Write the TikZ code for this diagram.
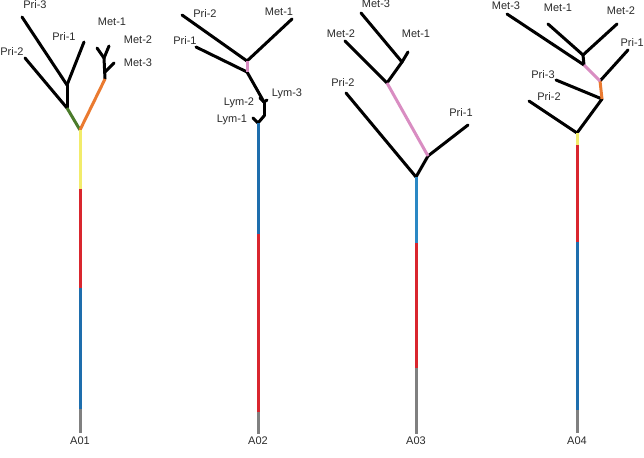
\documentclass[tikz,border=0pt]{standalone}
\usepackage{fontspec}
\setmainfont{Liberation Sans}
\definecolor{cyel}{HTML}{F2EC6B}
\definecolor{cred}{HTML}{D9262E}
\definecolor{cblue}{HTML}{1E6EAD}
\definecolor{cblue2}{HTML}{2A88C4}
\definecolor{cgrey}{HTML}{808080}
\definecolor{cgreen}{HTML}{4B7B2B}
\definecolor{corange}{HTML}{EA7A30}
\definecolor{cpink}{HTML}{D98DC2}
\definecolor{ctext}{HTML}{2A2A2A}
\begin{document}
\begin{tikzpicture}[x=1pt,y=-1pt,
  br/.style={line width=3pt, draw=black, line cap=round, line join=round},
  seg/.style={line width=3pt, draw=#1},
  lbl/.style={font=\fontsize{11}{13}\selectfont, text=ctext, inner sep=0pt}]
\useasboundingbox (0,0) rectangle (644,457);

% ===== A01 =====
\coordinate (r1) at (80,130);
\coordinate (s1y) at (80,189);
\coordinate (s1r) at (80,288);
\coordinate (s1b) at (80,409);
\coordinate (s1g) at (80,433);
\coordinate (g1) at (67,108);
\coordinate (p1) at (67,85);
\coordinate (l1pri2) at (25,58);
\coordinate (l1pri3) at (22,17);
\coordinate (l1pri1) at (84,42);
\coordinate (o1) at (105,79);
\coordinate (m1a) at (105,72);
\coordinate (m1b) at (104,58);
\coordinate (l1met3) at (114,63);
\coordinate (l1met1) at (97,48);
\coordinate (l1met2) at (109,46);
\draw[br] (g1) -- (p1);
\draw[br] (g1) -- (l1pri2);
\draw[br] (p1) -- (l1pri3);
\draw[br] (p1) -- (l1pri1);
\draw[br] (o1) -- (m1b);
\draw[br] (m1a) -- (l1met3);
\draw[br] (m1b) -- (l1met1);
\draw[br] (m1b) -- (l1met2);
\draw[seg=cgreen] (r1) -- (g1);
\draw[seg=corange] (r1) -- (o1);
\draw[seg=cyel] (r1) -- (s1y);
\draw[seg=cred] (s1y) -- (s1r);
\draw[seg=cblue] (s1r) -- (s1b);
\draw[seg=cgrey] (s1b) -- (s1g);
\node[lbl] (t1pri3) at (35,5) {Pri-3};
\node[lbl] (t1pri1) at (64,37) {Pri-1};
\node[lbl] (t1pri2) at (12,52) {Pri-2};
\node[lbl] (t1met1) at (112,22) {Met-1};
\node[lbl] (t1met2) at (138,40) {Met-2};
\node[lbl] (t1met3) at (138,63) {Met-3};
\node[lbl] (tA01) at (80,441) {A01};

% ===== A02 =====
\coordinate (r2) at (258,123);
\coordinate (s2b) at (258,234);
\coordinate (s2r) at (258,412);
\coordinate (s2g) at (258,434);
\coordinate (n2q) at (264,116);
\coordinate (l2lym1) at (253,118);
\coordinate (n2p) at (264,102);
\coordinate (l2lym2) at (260,98);
\coordinate (l2lym3) at (267,100);
\coordinate (n2b) at (247,72);
\coordinate (n2t) at (247,61);
\coordinate (l2pri1) at (196,47);
\coordinate (l2pri2) at (182,15);
\coordinate (l2met1) at (292,19);
\draw[br] (r2) -- (n2q);
\draw[br] (r2) -- (l2lym1);
\draw[br] (n2q) -- (n2p);
\draw[br] (n2p) -- (l2lym2);
\draw[br] (n2p) -- (l2lym3);
\draw[br] (n2p) -- (n2b);
\draw[br] (n2b) -- (l2pri1);
\draw[br] (n2t) -- (l2pri2);
\draw[br] (n2t) -- (l2met1);
\draw[seg=cpink] (n2b) -- (n2t);
\draw[seg=cblue] (r2) -- (s2b);
\draw[seg=cred] (s2b) -- (s2r);
\draw[seg=cgrey] (s2r) -- (s2g);
\node[lbl] (t2pri2) at (205,14) {Pri-2};
\node[lbl] (t2met1) at (279,12) {Met-1};
\node[lbl] (t2pri1) at (185,41) {Pri-1};
\node[lbl] (t2lym3) at (287,94) {Lym-3};
\node[lbl] (t2lym2) at (239,103) {Lym-2};
\node[lbl] (t2lym1) at (232,120) {Lym-1};
\node[lbl] (tA02) at (258,441) {A02};

% ===== A03 =====
\coordinate (r3) at (416,177);
\coordinate (s3b) at (416,243);
\coordinate (s3r) at (416,368);
\coordinate (s3g) at (416,434);
\coordinate (l3pri2) at (346,93);
\coordinate (n3a) at (428,156);
\coordinate (l3pri1) at (468,125);
\coordinate (n3b) at (387,83);
\coordinate (l3met2) at (345,41);
\coordinate (n3c) at (402,62);
\coordinate (l3met3) at (361,13);
\coordinate (l3met1) at (408,52);
\draw[br] (r3) -- (l3pri2);
\draw[br] (r3) -- (n3a);
\draw[br] (n3a) -- (l3pri1);
\draw[br] (n3b) -- (l3met2);
\draw[br] (n3b) -- (n3c);
\draw[br] (n3c) -- (l3met3);
\draw[br] (n3c) -- (l3met1);
\draw[seg=cpink] (n3a) -- (n3b);
\draw[seg=cblue2] (r3) -- (s3b);
\draw[seg=cred] (s3b) -- (s3r);
\draw[seg=cgrey] (s3r) -- (s3g);
\node[lbl] (t3met3) at (376,4) {Met-3};
\node[lbl] (t3met2) at (341,34) {Met-2};
\node[lbl] (t3met1) at (416,34) {Met-1};
\node[lbl] (t3pri2) at (343,83) {Pri-2};
\node[lbl] (t3pri1) at (461,113) {Pri-1};
\node[lbl] (tA03) at (416,441) {A03};

% ===== A04 =====
\coordinate (r4) at (577,133);
\coordinate (s4y) at (577,145);
\coordinate (s4r) at (577,242);
\coordinate (s4b) at (577,410);
\coordinate (s4g) at (577,433);
\coordinate (l4pri2) at (529,101);
\coordinate (n4a) at (602,99);
\coordinate (l4pri3) at (556,80);
\coordinate (n4b) at (600,81);
\coordinate (l4pri1) at (628,50);
\coordinate (n4c) at (584,65);
\coordinate (l4met3) at (507,14);
\coordinate (n4d) at (583,55);
\coordinate (l4met1) at (548,24);
\coordinate (l4met2) at (617,24);
\draw[br] (r4) -- (l4pri2);
\draw[br] (r4) -- (n4a);
\draw[br] (n4a) -- (l4pri3);
\draw[br] (n4b) -- (l4pri1);
\draw[br] (n4c) -- (l4met3);
\draw[br] (n4c) -- (n4d);
\draw[br] (n4d) -- (l4met1);
\draw[br] (n4d) -- (l4met2);
\draw[seg=corange] (n4a) -- (n4b);
\draw[seg=cpink] (n4b) -- (n4c);
\draw[seg=cyel] (r4) -- (s4y);
\draw[seg=cred] (s4y) -- (s4r);
\draw[seg=cblue] (s4r) -- (s4b);
\draw[seg=cgrey] (s4b) -- (s4g);
\node[lbl] (t4met3) at (506,6) {Met-3};
\node[lbl] (t4met1) at (558,8) {Met-1};
\node[lbl] (t4met2) at (621,11) {Met-2};
\node[lbl,anchor=east] (t4pri1) at (644,43) {Pri-1};
\node[lbl] (t4pri3) at (543,75) {Pri-3};
\node[lbl] (t4pri2) at (549,97) {Pri-2};
\node[lbl] (tA04) at (577,441) {A04};
\end{tikzpicture}
\end{document}
